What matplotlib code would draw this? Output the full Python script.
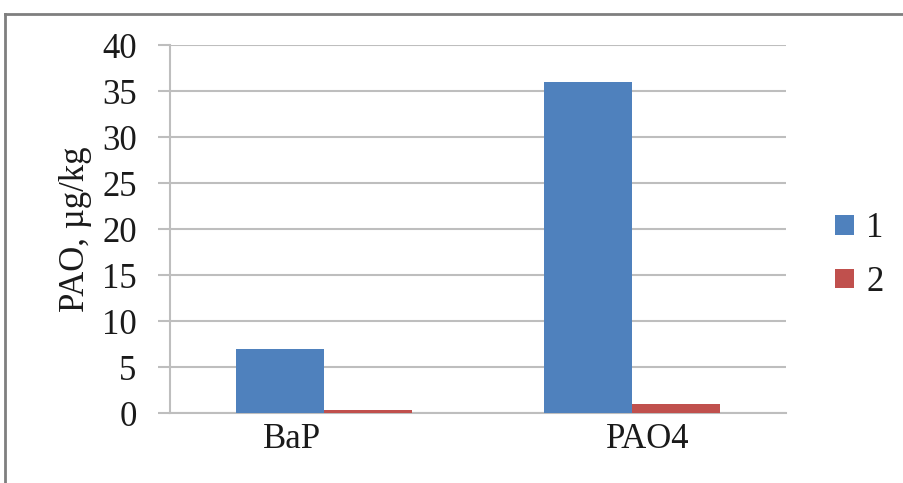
import matplotlib
matplotlib.use("Agg")
import matplotlib.pyplot as plt
import matplotlib.transforms as mtransforms
from matplotlib.lines import Line2D
from matplotlib.patches import Patch
import numpy as np

categories = ["BaP", "PAO4"]
series_1 = [7.0, 36.0]
series_2 = [0.35, 0.95]
series_names = ["1", "2"]
y_ticks = [0, 5, 10, 15, 20, 25, 30, 35, 40]
y_label = "PAO, µg/kg"

blue = "#4F81BD"
red = "#C0504D"
grid_gray = "#BEBEBE"
text_color = "#1a1a1a"

plt.rcParams["font.family"] = ["Liberation Serif", "DejaVu Serif"]
fs = 25

fig = plt.figure(figsize=(9.04, 4.83), dpi=100)
ax = fig.add_axes([170 / 904, 1 - 413 / 483, (786 - 170) / 904, (413 - 45) / 483])

x = np.arange(len(categories))
w = 0.285
ax.bar(x - w / 2, series_1, width=w, color=blue, zorder=3)
ax.bar(x + w / 2, series_2, width=w, color=red, zorder=3)

ax.set_xlim(-0.5, len(categories) - 0.5)
ax.set_ylim(0, 40)
ax.set_yticks(y_ticks)
ax.set_yticklabels([str(t) for t in y_ticks], fontsize=fs)
ax.yaxis.grid(True, color=grid_gray, linewidth=1.5, zorder=0)
ax.set_axisbelow(True)

for side in ("top", "right"):
    ax.spines[side].set_visible(False)
for side in ("left", "bottom"):
    ax.spines[side].set_color(grid_gray)
    ax.spines[side].set_linewidth(1.5)

ax.tick_params(axis="y", direction="out", length=9, width=1.5, color=grid_gray,
               pad=15, labelcolor=text_color)
ax.tick_params(axis="x", length=0, pad=7, labelcolor=text_color)
ax.set_xticks(x)
ax.set_xticklabels(categories, fontsize=fs)

# nudge the category labels horizontally
offsets_px = [-32, 16]
for lab, dx in zip(ax.get_xticklabels(), offsets_px):
    lab.set_transform(lab.get_transform() +
                      mtransforms.ScaledTranslation(dx / 100, 0, fig.dpi_scale_trans))

ax.set_ylabel(y_label, fontsize=fs, color=text_color)
ax.yaxis.set_label_coords(
    92 / 904, 0.5,
    transform=mtransforms.blended_transform_factory(fig.transFigure, ax.transAxes))

handles = [Patch(facecolor=blue, edgecolor="none"), Patch(facecolor=red, edgecolor="none")]
leg = fig.legend(handles, series_names, loc="upper left",
                 bbox_to_anchor=(835 / 904, 1 - 212 / 483), frameon=False, fontsize=fs,
                 handlelength=0.55, handleheight=0.5, handletextpad=0.35, labelspacing=0.6,
                 borderpad=0, borderaxespad=0)
for t in leg.get_texts():
    t.set_color(text_color)

# outer frame
frame_color = "#7F7F7F"
fig.add_artist(Line2D([5 / 904, 5 / 904], [0, 1 - 14 / 483], transform=fig.transFigure,
                      color=frame_color, linewidth=2))
fig.add_artist(Line2D([5 / 904, 1], [1 - 14 / 483, 1 - 14 / 483], transform=fig.transFigure,
                      color=frame_color, linewidth=2))

fig.savefig("out.png", dpi=100, facecolor="white")
